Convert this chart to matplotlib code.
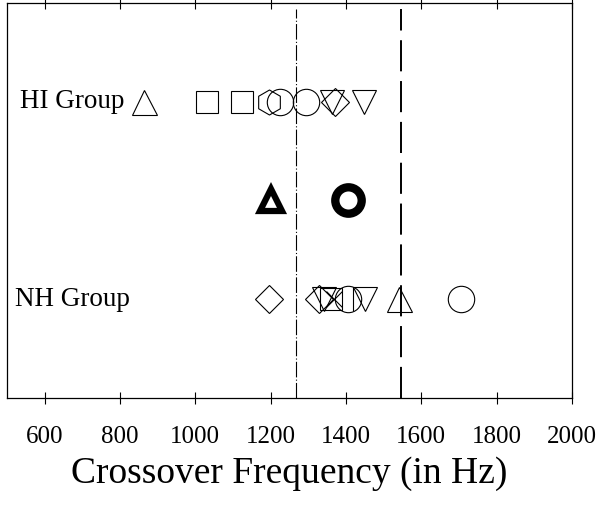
import matplotlib.pyplot as plt

# individual crossover frequencies (Hz) and their symbols
hi_freq = [865, 1032, 1125, 1197, 1224, 1295, 1362, 1372, 1447]
hi_marker = ['^', 's', 's', 'h', 'o', 'o', 'v', 'D', 'v']
nh_freq = [1197, 1328, 1342, 1360, 1368, 1405, 1418, 1450, 1540, 1705]
nh_marker = ['D', 'D', 'v', 's', 'x', 'o', '|', 'v', '^', 'o']

# group means
mean_freq = [1200, 1405]
mean_marker = ['^', 'o']

# reference lines
ref_lines = [1268, 1547]

row_y = {'NH': 1, 'mean': 2, 'HI': 3}

plt.rcParams['font.family'] = ['Liberation Serif', 'DejaVu Serif']

fig = plt.figure(figsize=(6.01, 5.05), dpi=100)
ax = fig.add_axes([0.0116, 0.212, 0.94, 0.782])

sizes = {'^': 18, 'v': 17, 's': 16, 'o': 19, 'h': 18, 'D': 14, 'x': 12, '|': 17}

def draw_row(freqs, markers, y):
    for f, m in zip(freqs, markers):
        ax.plot(f, y, marker=m, ms=sizes[m], mfc='none', mec='black',
                mew=0.8, ls='none', zorder=3)

draw_row(hi_freq, hi_marker, row_y['HI'])
draw_row(nh_freq, nh_marker, row_y['NH'])

# bold means
ax.plot(mean_freq[0], row_y['mean'], marker=mean_marker[0], ms=16, mfc='none',
        mec='black', mew=4.5, ls='none')
ax.plot(mean_freq[1], row_y['mean'], marker=mean_marker[1], ms=19, mfc='none',
        mec='black', mew=6, ls='none')

ax.axvline(ref_lines[0], ymax=0.985, color='black', lw=0.8, ls=(0, (14, 2, 1, 2)))
ax.axvline(ref_lines[1], ymax=0.985, color='black', lw=1.4, ls=(0, (16, 5)))

ax.text(534, row_y['HI'], 'HI Group', fontsize=19.5, va='center', ha='left')
ax.text(522, row_y['NH'], 'NH Group', fontsize=19.5, va='center', ha='left')

ax.set_xlim(500, 2000)
ax.set_ylim(0, 4)
ax.set_xticks(range(600, 2001, 200))
ax.set_yticks([])
ax.tick_params(axis='x', direction='inout', length=9, width=0.8, top=True,
               labelsize=18, pad=16)
for s in ax.spines.values():
    s.set_linewidth(0.9)
ax.set_xlabel('Crossover Frequency (in Hz)', fontsize=27, labelpad=6)

fig.savefig('out.png', dpi=100)
